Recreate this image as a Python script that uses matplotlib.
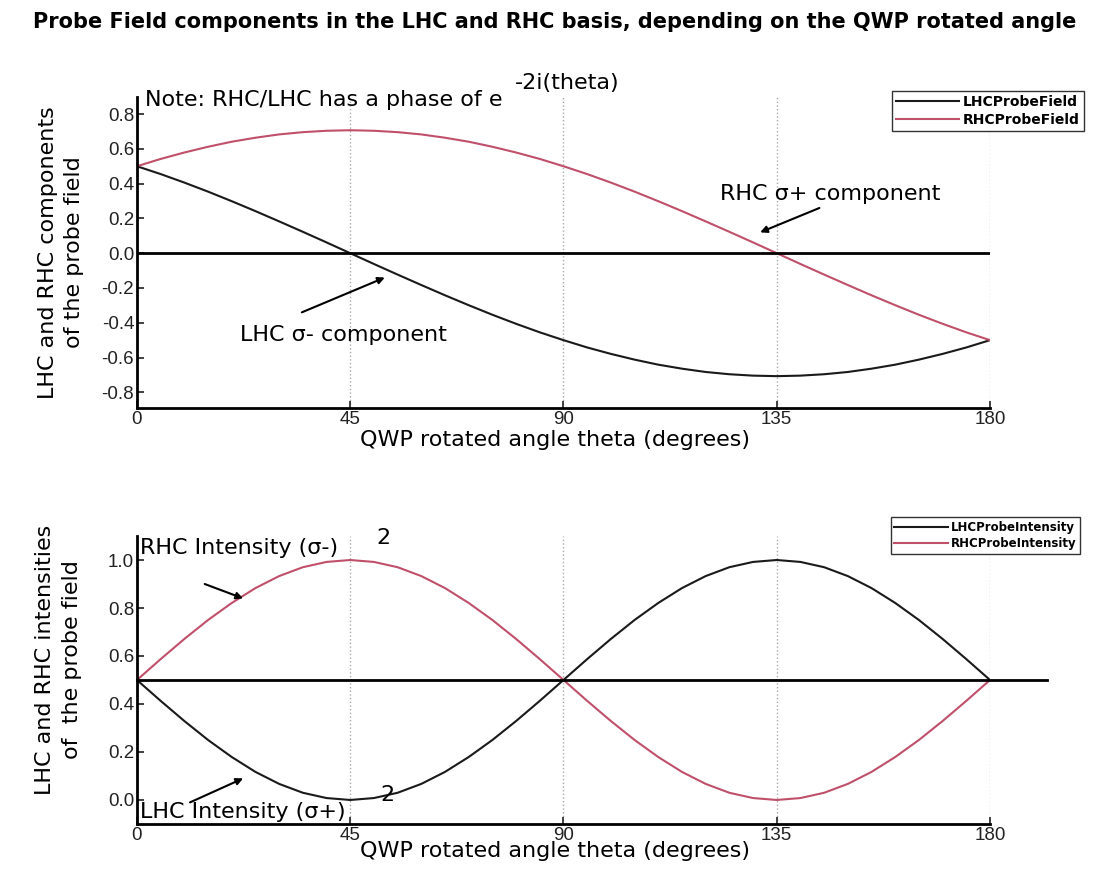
import numpy as np
import matplotlib.pyplot as plt

plt.rcParams['font.family'] = ['DejaVu Sans']

# QWP angle (degrees), sampled every 5 degrees
theta = list(range(0, 181, 5))

# field components
lhc_field = [0.500, 0.455, 0.406, 0.354, 0.299, 0.242, 0.183, 0.123, 0.062, 0.000,
             -0.062, -0.123, -0.183, -0.242, -0.299, -0.354, -0.406, -0.455, -0.500,
             -0.542, -0.579, -0.612, -0.641, -0.664, -0.683, -0.696, -0.704, -0.707,
             -0.704, -0.696, -0.683, -0.664, -0.641, -0.612, -0.579, -0.542, -0.500]
rhc_field = [0.500, 0.542, 0.579, 0.612, 0.641, 0.664, 0.683, 0.696, 0.704, 0.707,
             0.704, 0.696, 0.683, 0.664, 0.641, 0.612, 0.579, 0.542, 0.500,
             0.455, 0.406, 0.354, 0.299, 0.242, 0.183, 0.123, 0.062, 0.000,
             -0.062, -0.123, -0.183, -0.242, -0.299, -0.354, -0.406, -0.455, -0.500]

# intensities
lhc_int = [0.500, 0.413, 0.329, 0.250, 0.179, 0.117, 0.067, 0.030, 0.008, 0.000,
           0.008, 0.030, 0.067, 0.117, 0.179, 0.250, 0.329, 0.413, 0.500,
           0.587, 0.671, 0.750, 0.821, 0.883, 0.933, 0.970, 0.992, 1.000,
           0.992, 0.970, 0.933, 0.883, 0.821, 0.750, 0.671, 0.587, 0.500]
rhc_int = [0.500, 0.587, 0.671, 0.750, 0.821, 0.883, 0.933, 0.970, 0.992, 1.000,
           0.992, 0.970, 0.933, 0.883, 0.821, 0.750, 0.671, 0.587, 0.500,
           0.413, 0.329, 0.250, 0.179, 0.117, 0.067, 0.030, 0.008, 0.000,
           0.008, 0.030, 0.067, 0.117, 0.179, 0.250, 0.329, 0.413, 0.500]

xticks = [0, 45, 90, 135, 180]
red = '#c0506a'
fs = 16          # labels / annotations
tfs = 13.5       # tick labels
arrow = dict(arrowstyle='-|>', color='k', lw=1.5, shrinkA=0, shrinkB=0)

fig = plt.figure(figsize=(11.09, 8.71), dpi=100)
ax1 = fig.add_axes([0.1235, 0.5316, 0.7692, 0.3574])
ax2 = fig.add_axes([0.1235, 0.054, 0.7692, 0.3306])


def style(ax, ylim, yticks, ylabel, ylab_x, ylab_y, xlab_y):
    ax.set_xlim(0, 180)
    ax.set_ylim(*ylim)
    ax.set_xticks(xticks)
    ax.set_yticks(yticks)
    ax.set_yticklabels(['%.1f' % v for v in yticks])
    ax.spines['top'].set_visible(False)
    ax.spines['right'].set_visible(False)
    for s in ('left', 'bottom'):
        ax.spines[s].set_linewidth(2)
    ax.tick_params(direction='in', length=5, width=1.2, labelsize=tfs, pad=2,
                   colors='#222222')
    for lab in ax.get_xticklabels() + ax.get_yticklabels():
        lab.set_family('Liberation Sans')
    ax.xaxis.grid(True, linestyle=':', color='#aaaaaa', lw=1)
    ax.set_xlabel('QWP rotated angle theta (degrees)', fontsize=fs)
    ax.xaxis.set_label_coords(0.49, xlab_y)
    ax.set_ylabel(ylabel, fontsize=fs, linespacing=1.4)
    ax.yaxis.set_label_coords(ylab_x, ylab_y)


# upper panel: field components
ax1.plot(theta, lhc_field, color='#1a1a1a', lw=1.5, label='LHCProbeField')
ax1.plot(theta, rhc_field, color=red, lw=1.5, label='RHCProbeField')
ax1.plot([0, 180], [0, 0], color='k', lw=2)
style(ax1, (-0.89, 0.9), [0.8, 0.6, 0.4, 0.2, 0.0, -0.2, -0.4, -0.6, -0.8],
      'LHC and RHC components\nof the probe field', -0.062, 0.5, -0.07)
ax1.text(1.7, 0.88, 'Note: RHC/LHC has a phase of e', fontsize=fs, va='center')
ax1.text(79.8, 0.98, '-2i(theta)', fontsize=fs, va='center')
ax1.text(123, 0.34, 'RHC σ+ component', fontsize=fs, va='center')
ax1.annotate('', xy=(131.5, 0.12), xytext=(144, 0.26), arrowprops=arrow)
ax1.text(21.7, -0.47, 'LHC σ- component', fontsize=fs, va='center')
ax1.annotate('', xy=(52.3, -0.14), xytext=(34.8, -0.34), arrowprops=arrow)
fig.legend(*ax1.get_legend_handles_labels(), loc='upper left',
           bbox_to_anchor=(0.798, 0.904), prop={'size': 10, 'weight': 'bold'},
           frameon=True, fancybox=False, edgecolor='k', handlelength=4.5,
           borderpad=0.3, labelspacing=0.3, handletextpad=0.3)

# lower panel: intensities
ax2.plot(theta, lhc_int, color='#1a1a1a', lw=1.5, label='LHCProbeIntensity')
ax2.plot(theta, rhc_int, color=red, lw=1.5, label='RHCProbeIntensity')
ax2.plot([0, 192], [0.5, 0.5], color='k', lw=2, clip_on=False)
style(ax2, (-0.1, 1.1), [0.0, 0.2, 0.4, 0.6, 0.8, 1.0],
      'LHC and RHC intensities\nof  the probe field', -0.065, 0.57, -0.06)
ax2.text(0.6, 1.05, 'RHC Intensity (σ-)', fontsize=fs, va='center')
ax2.text(50.5, 1.09, '2', fontsize=fs, va='center')
ax2.annotate('', xy=(22.4, 0.84), xytext=(14.3, 0.90), arrowprops=arrow)
ax2.text(0.6, -0.05, 'LHC Intensity (σ+)', fontsize=fs, va='center')
ax2.text(51.3, 0.02, '2', fontsize=fs, va='center')
ax2.annotate('', xy=(22.4, 0.09), xytext=(11.2, -0.01), arrowprops=arrow)
fig.legend(*ax2.get_legend_handles_labels(), loc='upper left',
           bbox_to_anchor=(0.798, 0.413), prop={'size': 8.5, 'weight': 'bold'},
           frameon=True, fancybox=False, edgecolor='k', handlelength=4.5,
           borderpad=0.3, labelspacing=0.3, handletextpad=0.3)

fig.suptitle('Probe Field components in the LHC and RHC basis, depending on the QWP rotated angle',
             fontsize=15, fontweight='bold', y=0.986)

fig.savefig('out.png', dpi=100)
